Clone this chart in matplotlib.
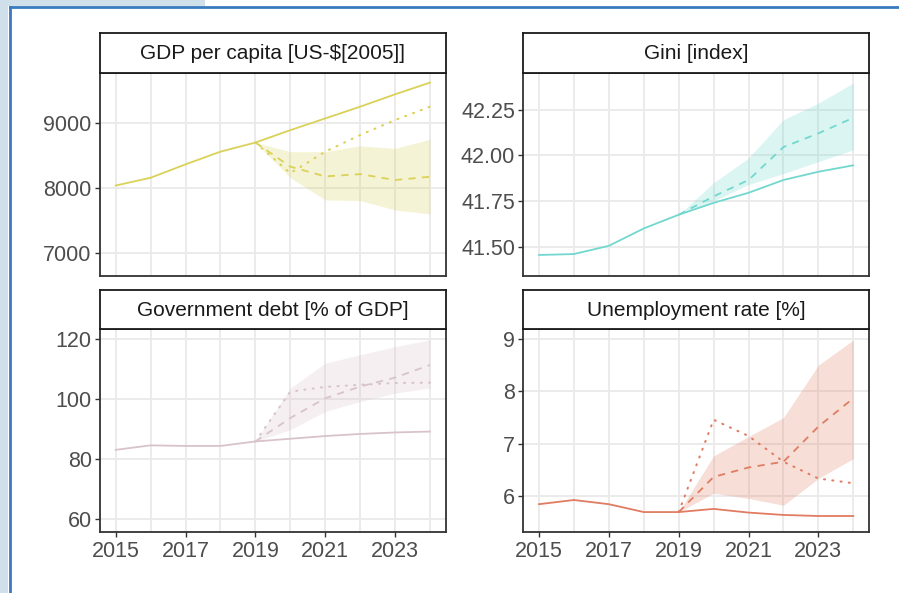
import numpy as np
import matplotlib.pyplot as plt
from matplotlib.patches import Rectangle
from matplotlib.lines import Line2D

plt.rcParams['font.family'] = ['Liberation Sans', 'DejaVu Sans']

# ---- data ----
years = [2015, 2016, 2017, 2018, 2019, 2020, 2021, 2022, 2023, 2024]
fc_years = [2019, 2020, 2021, 2022, 2023, 2024]

gdp_hist = [8040, 8160, 8365, 8560, 8700, 8890, 9070, 9250, 9440, 9620]
gdp_dotted = [8700, 8230, 8560, 8815, 9045, 9250]
gdp_dashed = [8700, 8330, 8180, 8215, 8125, 8175]
gdp_low = [8700, 8160, 7820, 7810, 7665, 7605]
gdp_high = [8700, 8560, 8560, 8650, 8610, 8750]

gini_hist = [41.455, 41.46, 41.505, 41.60, 41.675, 41.74, 41.795, 41.865, 41.91, 41.945]
gini_dashed = [41.675, 41.775, 41.865, 42.045, 42.12, 42.205]
gini_low = [41.675, 41.75, 41.84, 41.90, 41.965, 42.03]
gini_high = [41.675, 41.85, 41.985, 42.195, 42.285, 42.395]

debt_hist = [83.0, 84.5, 84.3, 84.3, 85.8, 86.7, 87.6, 88.3, 88.8, 89.1]
debt_dotted = [85.8, 102.4, 104.0, 104.7, 105.3, 105.4]
debt_dashed = [85.8, 93.6, 100.2, 104.1, 107.1, 111.3]
debt_low = [85.8, 89.7, 95.8, 99.1, 101.9, 103.6]
debt_high = [85.8, 103.6, 111.9, 114.7, 117.4, 119.7]

unemp_hist = [5.85, 5.93, 5.85, 5.70, 5.70, 5.76, 5.69, 5.645, 5.625, 5.625]
unemp_dotted = [5.70, 7.46, 7.15, 6.66, 6.34, 6.25]
unemp_dashed = [5.70, 6.37, 6.55, 6.66, 7.33, 7.87]
unemp_low = [5.70, 6.06, 5.96, 5.83, 6.34, 6.72]
unemp_high = [5.70, 6.77, 7.14, 7.50, 8.50, 8.98]

panels = [
    dict(title='GDP per capita [US-$[2005]]', color='#DAD158',
         hist=gdp_hist, dotted=gdp_dotted, dashed=gdp_dashed, low=gdp_low, high=gdp_high,
         ylim=(6652, 9767), yticks=[7000, 8000, 9000], fmt='{:.0f}'),
    dict(title='Gini [index]', color='#72D8CF',
         hist=gini_hist, dotted=None, dashed=gini_dashed, low=gini_low, high=gini_high,
         ylim=(41.34, 42.45), yticks=[41.5, 41.75, 42.0, 42.25], fmt='{:.2f}'),
    dict(title='Government debt [% of GDP]', color='#D8C3CC',
         hist=debt_hist, dotted=debt_dotted, dashed=debt_dashed, low=debt_low, high=debt_high,
         ylim=(55.5, 123.2), yticks=[60, 80, 100, 120], fmt='{:.0f}'),
    dict(title='Unemployment rate [%]', color='#E07C62',
         hist=unemp_hist, dotted=unemp_dotted, dashed=unemp_dashed, low=unemp_low, high=unemp_high,
         ylim=(5.314, 9.185), yticks=[6, 7, 8, 9], fmt='{:.0f}'),
]

W, H = 899, 593
fig = plt.figure(figsize=(W / 100, H / 100), dpi=100)

# frame decoration of the page
fig.add_artist(Rectangle((0, 0), 8 / W, 1, transform=fig.transFigure, color='#CFE0EB', lw=0))
fig.add_artist(Rectangle((0, 1 - 6 / H), 205 / W, 6 / H, transform=fig.transFigure, color='#CFE0EB', lw=0))
fig.add_artist(Line2D([9.5 / W, 9.5 / W], [0, 1 - 6.5 / H], transform=fig.transFigure, color='#3A7BBF', lw=2))
fig.add_artist(Line2D([9.5 / W, 1], [1 - 6.5 / H, 1 - 6.5 / H], transform=fig.transFigure, color='#3A7BBF', lw=2))

lefts = [100, 523.3]
tops = [73, 329.3]
pw, ph = 345.7, 203
strip_h = [40, 39.3]

for i, p in enumerate(panels):
    row, col = divmod(i, 2)
    x0 = lefts[col]
    y0 = tops[row]
    ax = fig.add_axes([x0 / W, 1 - (y0 + ph) / H, pw / W, ph / H])
    sax = fig.add_axes([x0 / W, 1 - y0 / H, pw / W, strip_h[row] / H])

    c = p['color']
    ax.fill_between(fc_years, p['low'], p['high'], color=c, alpha=0.25, lw=0)
    ax.plot(years, p['hist'], color=c, lw=1.3)
    ax.plot(fc_years, p['dashed'], color=c, lw=1.3, ls=(0, (4, 3.5)))
    if p['dotted'] is not None:
        ax.plot(fc_years, p['dotted'], color=c, lw=1.5, ls=(0, (0.5, 3.5)), dash_capstyle='round')

    ax.set_xlim(2014.55, 2024.45)
    ax.set_ylim(*p['ylim'])
    ax.set_xticks(range(2015, 2025, 2))
    ax.set_xticks(range(2016, 2025, 2), minor=True)
    ax.set_yticks(p['yticks'])
    ax.set_yticklabels([p['fmt'].format(v) for v in p['yticks']])
    ax.grid(True, which='major', color='#EBEBEB', lw=1.4, zorder=0)
    ax.grid(True, which='minor', axis='x', color='#EBEBEB', lw=1.4, zorder=0)
    ax.set_axisbelow(True)
    ax.tick_params(axis='both', which='major', length=3.5, width=1, color='#333333',
                   labelsize=15.5, labelcolor='#4D4D4D', pad=2.5)
    ax.tick_params(axis='x', which='minor', length=0)
    if row == 0:
        ax.tick_params(axis='x', which='major', length=0, labelbottom=False)
    for s in ax.spines.values():
        s.set_color('#333333')
        s.set_linewidth(1.3)

    sax.set_xticks([])
    sax.set_yticks([])
    for s in sax.spines.values():
        s.set_color('#1A1A1A')
        s.set_linewidth(1.3)
    sax.text(0.5, 0.48, p['title'], ha='center', va='center', fontsize=15,
             color='#1A1A1A', transform=sax.transAxes)

fig.savefig('out.png', dpi=100)
